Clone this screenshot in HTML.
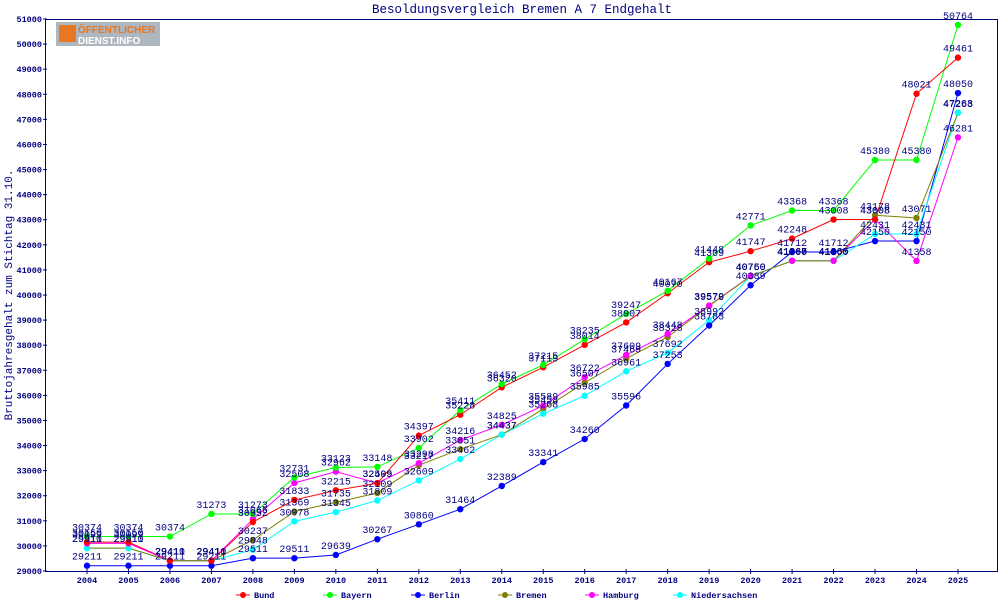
<!DOCTYPE html>
<html><head><meta charset="utf-8"><style>
body{margin:0;background:#fff;}
svg{display:block;font-family:"Liberation Mono",monospace;}
.t{font-size:10px;fill:#000080;text-anchor:middle;}
</style></head><body>
<svg id="s" width="1000" height="600" xmlns="http://www.w3.org/2000/svg">
<rect width="1000" height="600" fill="#fff"/>
<text x="522" y="13" style="font-size:12.5px;fill:#000080;text-anchor:middle">Besoldungsvergleich Bremen A 7 Endgehalt</text>
<rect x="45.5" y="19.5" width="952" height="552" fill="none" stroke="#000080" stroke-width="1"/>
<g>
<rect x="56" y="22" width="104" height="24" fill="#9aa4b0" opacity="0.8"/>
<rect x="59" y="25" width="17" height="17" fill="#e87722"/>
<text x="78" y="33" style="font-family:'Liberation Sans',sans-serif;font-size:10px;font-weight:bold;fill:#e87722">ÖFFENTLICHER</text>
<text x="78" y="44" style="font-family:'Liberation Sans',sans-serif;font-size:10px;font-weight:bold;fill:#fff">DIENST.INFO</text>
</g>
<text transform="translate(12,295) rotate(-90)" style="font-size:11px;fill:#000080;text-anchor:middle">Bruttojahresgehalt zum Stichtag 31.10.</text>
<g id="yl" style="font-size:8.5px;fill:#000080;text-anchor:end;font-weight:bold">
<text>29000</text><text>30000</text><text>31000</text><text>32000</text><text>33000</text><text>34000</text><text>35000</text><text>36000</text><text>37000</text><text>38000</text><text>39000</text><text>40000</text><text>41000</text><text>42000</text><text>43000</text><text>44000</text><text>45000</text><text>46000</text><text>47000</text><text>48000</text><text>49000</text><text>50000</text><text>51000</text>
</g>
<g id="xl" style="font-size:8.5px;fill:#000080;text-anchor:middle;font-weight:bold">
<text>2004</text><text>2005</text><text>2006</text><text>2007</text><text>2008</text><text>2009</text><text>2010</text><text>2011</text><text>2012</text><text>2013</text><text>2014</text><text>2015</text><text>2016</text><text>2017</text><text>2018</text><text>2019</text><text>2020</text><text>2021</text><text>2022</text><text>2023</text><text>2024</text><text>2025</text>
</g>
<g id="lines"></g>
<g class="ser" fill="#808000"><text class="t">29910</text><text class="t">29910</text><text class="t">29411</text><text class="t">29411</text><text class="t">30237</text><text class="t">31369</text><text class="t">31735</text><text class="t">32109</text><text class="t">33217</text><text class="t">33851</text><text class="t">34437</text><text class="t">35458</text><text class="t">36507</text><text class="t">37469</text><text class="t">38328</text><text class="t">39570</text><text class="t">40750</text><text class="t">41360</text><text class="t">41360</text><text class="t">43178</text><text class="t">43071</text><text class="t">47263</text></g>
<g class="ser" fill="#00ffff"><text class="t">29911</text><text class="t">29911</text><text class="t">29411</text><text class="t">29411</text><text class="t">29848</text><text class="t">30978</text><text class="t">31345</text><text class="t">31809</text><text class="t">32609</text><text class="t">33462</text><text class="t">34437</text><text class="t">35268</text><text class="t">35985</text><text class="t">36961</text><text class="t">37692</text><text class="t">38992</text><text class="t">40760</text><text class="t">41365</text><text class="t">41365</text><text class="t">42431</text><text class="t">42431</text><text class="t">47268</text></g>
<g class="ser" fill="#ff00ff"><text class="t">30099</text><text class="t">30099</text><text class="t">29411</text><text class="t">29411</text><text class="t">31065</text><text class="t">32508</text><text class="t">32962</text><text class="t">32505</text><text class="t">33298</text><text class="t">34216</text><text class="t">34825</text><text class="t">35589</text><text class="t">36722</text><text class="t">37609</text><text class="t">38448</text><text class="t">39579</text><text class="t">40760</text><text class="t">41367</text><text class="t">41365</text><text class="t">43008</text><text class="t">41358</text><text class="t">46281</text></g>
<g class="ser" fill="#0000ff"><text class="t">29211</text><text class="t">29211</text><text class="t">29211</text><text class="t">29211</text><text class="t">29511</text><text class="t">29511</text><text class="t">29639</text><text class="t">30267</text><text class="t">30860</text><text class="t">31464</text><text class="t">32389</text><text class="t">33341</text><text class="t">34260</text><text class="t">35596</text><text class="t">37253</text><text class="t">38783</text><text class="t">40389</text><text class="t">41712</text><text class="t">41712</text><text class="t">42150</text><text class="t">42150</text><text class="t">48050</text></g>
<g class="ser" fill="#ff0000"><text class="t">30150</text><text class="t">30150</text><text class="t">29410</text><text class="t">29410</text><text class="t">30952</text><text class="t">31833</text><text class="t">32215</text><text class="t">32499</text><text class="t">34397</text><text class="t">35228</text><text class="t">36320</text><text class="t">37119</text><text class="t">38014</text><text class="t">38907</text><text class="t">40070</text><text class="t">41309</text><text class="t">41747</text><text class="t">42248</text><text class="t">43008</text><text class="t">43008</text><text class="t">48021</text><text class="t">49461</text></g>
<g class="ser" fill="#00ff00"><text class="t">30374</text><text class="t">30374</text><text class="t">30374</text><text class="t">31273</text><text class="t">31273</text><text class="t">32731</text><text class="t">33123</text><text class="t">33148</text><text class="t">33902</text><text class="t">35411</text><text class="t">36452</text><text class="t">37215</text><text class="t">38235</text><text class="t">39247</text><text class="t">40167</text><text class="t">41448</text><text class="t">42771</text><text class="t">43368</text><text class="t">43368</text><text class="t">45380</text><text class="t">45380</text><text class="t">50764</text></g>
<g style="font-size:8.5px;fill:#000080;font-weight:bold">
<line x1="236" y1="595" x2="250" y2="595" stroke="#ff0000"/><circle cx="243" cy="595" r="3" fill="#ff0000"/><text x="254" y="598">Bund</text>
<line x1="323" y1="595" x2="337" y2="595" stroke="#00ff00"/><circle cx="330" cy="595" r="3" fill="#00ff00"/><text x="341" y="598">Bayern</text>
<line x1="411" y1="595" x2="425" y2="595" stroke="#0000ff"/><circle cx="418" cy="595" r="3" fill="#0000ff"/><text x="429" y="598">Berlin</text>
<line x1="498" y1="595" x2="512" y2="595" stroke="#808000"/><circle cx="505" cy="595" r="3" fill="#808000"/><text x="516" y="598">Bremen</text>
<line x1="585" y1="595" x2="599" y2="595" stroke="#ff00ff"/><circle cx="592" cy="595" r="3" fill="#ff00ff"/><text x="603" y="598">Hamburg</text>
<line x1="673" y1="595" x2="687" y2="595" stroke="#00ffff"/><circle cx="680" cy="595" r="3" fill="#00ffff"/><text x="691" y="598">Niedersachsen</text>
</g>
</svg>
<script>
var NS="http://www.w3.org/2000/svg";
function X(i){return 87+41.476*i;}
function Y(v){return 571-(v-29000)*0.025091;}
var s=document.getElementById('s');
var yl=document.getElementById('yl').children;
for(var k=0;k<yl.length;k++){var y=Y(29000+1000*k);yl[k].setAttribute('x',42);yl[k].setAttribute('y',y+3);
var l=document.createElementNS(NS,'line');l.setAttribute('x1',43);l.setAttribute('x2',47);l.setAttribute('y1',y);l.setAttribute('y2',y);l.setAttribute('stroke','#000080');s.appendChild(l);}
var xl=document.getElementById('xl').children;
for(var k=0;k<xl.length;k++){xl[k].setAttribute('x',X(k));xl[k].setAttribute('y',583);
var l=document.createElementNS(NS,'line');l.setAttribute('x1',X(k));l.setAttribute('x2',X(k));l.setAttribute('y1',569);l.setAttribute('y2',574);l.setAttribute('stroke','#000080');s.appendChild(l);}
var lines=document.getElementById('lines');
var sers=document.querySelectorAll('.ser');
sers.forEach(function(g){var c=g.getAttribute('fill');var ts=g.children;var pts=[];
for(var i=0;i<ts.length;i++){var v=+ts[i].textContent;var x=X(i),y=Y(v);pts.push(x+','+y);
ts[i].setAttribute('x',x);ts[i].setAttribute('y',y-6);ts[i].setAttribute('fill','#000080');
var m=document.createElementNS(NS,'circle');m.setAttribute('cx',x);m.setAttribute('cy',y);m.setAttribute('r',3.2);m.setAttribute('fill',c);lines.appendChild(m);}
var p=document.createElementNS(NS,'polyline');p.setAttribute('points',pts.join(' '));p.setAttribute('fill','none');p.setAttribute('stroke',c);p.setAttribute('stroke-width',1);lines.insertBefore(p,lines.firstChild);});
</script>
</body></html>
